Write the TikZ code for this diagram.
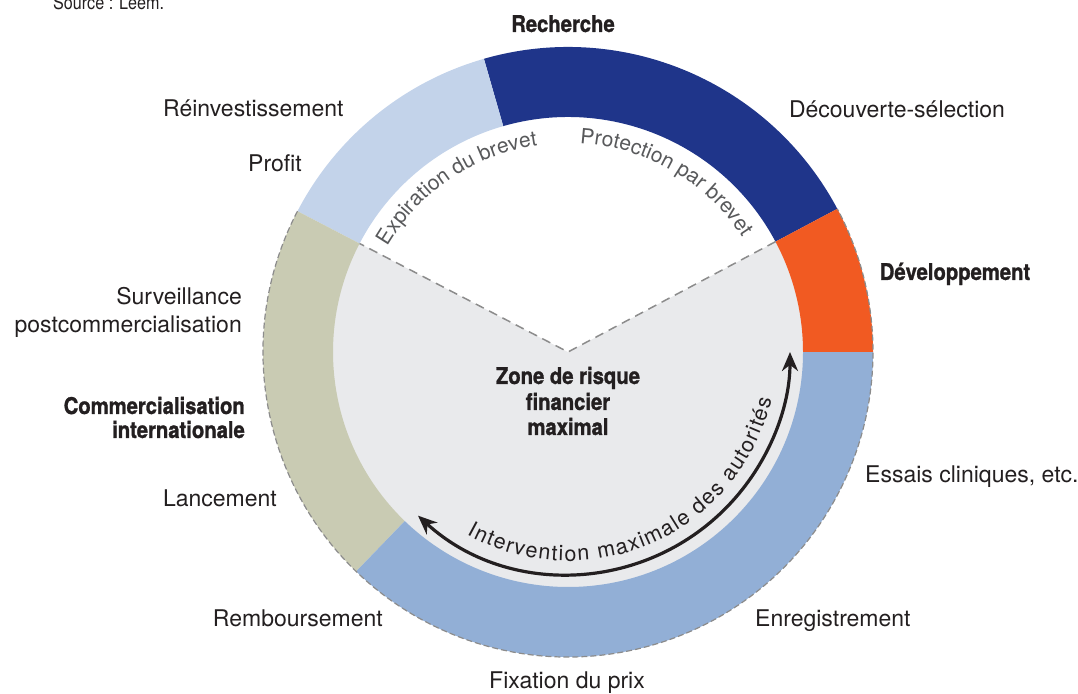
\documentclass[tikz,border=0pt]{standalone}
\usepackage{fontspec}
\setmainfont{TeX Gyre Heros}
\newfontfamily\condbold{TeX Gyre Heros}[FakeStretch=0.88,FakeBold=1.2]
\newfontfamily\condreg{TeX Gyre Heros}[FakeStretch=0.85]
\usetikzlibrary{arrows.meta,decorations.text}

\definecolor{ink}{HTML}{231F20}
\definecolor{arcgray}{HTML}{58595B}
\definecolor{dashgray}{HTML}{8C8C8C}
\definecolor{research}{HTML}{1F358A}
\definecolor{develop}{HTML}{F15A22}
\definecolor{clinical}{HTML}{92AFD6}
\definecolor{market}{HTML}{C9CBB3}
\definecolor{reinvest}{HTML}{C3D3EA}
\definecolor{riskzone}{HTML}{E9EAEC}

% annular sector: colour, start angle, end angle
\newcommand\ringsector[3]{%
  \fill[#1] ([shift={(C)}]#2:305pt) arc[start angle=#2, end angle=#3, radius=305pt]
    -- ([shift={(C)}]#3:235pt) arc[start angle=#3, end angle=#2, radius=235pt] -- cycle;}

\begin{document}
\begin{tikzpicture}[x=1pt,y=1pt,
  lbl/.style={font=\fontsize{23}{27}\selectfont, text=ink, inner sep=0pt},
  lblb/.style={font=\condbold\bfseries\fontsize{23}{27}\selectfont, text=ink, inner sep=0pt},
  srcstyle/.style={font=\condreg\fontsize{19}{22}\selectfont, text=ink, inner sep=0pt},
  edgedash/.style={draw=dashgray, line width=1.2pt, dash pattern=on 6pt off 3pt},
  vdash/.style={draw=dashgray, line width=1.5pt, dash pattern=on 9pt off 6pt},
  bigarrow/.style={line width=3.2pt, draw=ink, {Stealth[length=19pt,width=16pt]}-{Stealth[length=19pt,width=16pt]}}]

\useasboundingbox (0,0) rectangle (1078,693);
\coordinate (C) at (568,341);

% inner disc with the white patent sector
\fill[riskzone] (C) circle[radius=235.5pt];
\fill[white] (C) -- ([shift={(C)}]28:235.5pt) arc[start angle=28, end angle=152.5, radius=235.5pt] -- cycle;

% coloured ring
\ringsector{research}{28}{106}
\ringsector{reinvest}{106}{152.5}
\ringsector{market}{152.5}{226}
\ringsector{clinical}{226}{360}
\ringsector{develop}{0}{28}

% dashed outline of the risk phases
\draw[edgedash] ([shift={(C)}]152.5:305pt) arc[start angle=152.5, end angle=388, radius=305pt];

% dashed wedge
\coordinate (vR) at ([shift={(C)}]28:235pt);
\coordinate (vL) at ([shift={(C)}]152.5:235pt);
\draw[vdash] (vR) -- (C) -- (vL);

% arc texts
\path[decorate, decoration={text along path, text align=center,
  text={|\fontsize{21}{25}\selectfont\color{arcgray}|Expiration du brevet}}]
  ([shift={(C)}]164:209pt) arc[start angle=164, end angle=84, radius=209pt];
\path[decorate, decoration={text along path, text align=center,
  text={|\fontsize{21}{25}\selectfont\color{arcgray}|Protection par brevet}}]
  ([shift={(C)}]100:209pt) arc[start angle=100, end angle=20, radius=209pt];

% authorities arrow
\coordinate (arrL) at ([shift={(C)}]-132.5:222pt);
\draw[bigarrow] (arrL) arc[start angle=-132.5, end angle=0, radius=222pt];
\path[decorate, decoration={text along path, text align=fit to path,
  text={|\fontsize{21.5}{25}\selectfont\color{ink}|Intervention maximale des autorités}}]
  ([shift={(C)}]-119:209pt) arc[start angle=-119, end angle=-13, radius=209pt];

% centre text
\node[lblb, anchor=base] (zone1) at (568,309) {Zone de risque};
\node[lblb, anchor=base] (zone2) at (568,283) {financier};
\node[lblb, anchor=base] (zone3) at (568,258) {maximal};

% outer labels
\node[srcstyle, anchor=base west] (src) at (53,683) {Source : Leem.};
\node[lblb, anchor=base] (rech) at (563,661) {Recherche};
\node[lbl, anchor=base] (decsel) at (897,575) {Découverte-sélection};
\node[lblb, anchor=base] (dev) at (955,413) {Développement};
\node[lbl, anchor=base west] (essais) at (865,210) {Essais cliniques, etc.};
\node[lbl, anchor=base west] (enreg) at (755,66) {Enregistrement};
\node[lbl, anchor=base] (fix) at (567,5) {Fixation du prix};
\node[lbl, anchor=base east] (remb) at (383,66) {Remboursement};
\node[lbl, anchor=base east] (lanc) at (277,186) {Lancement};
\node[lblb, anchor=base east] (comm1) at (245,279) {Commercialisation};
\node[lblb, anchor=base east] (comm2) at (245,255) {internationale};
\node[lbl, anchor=base east] (surv1) at (242,388) {Surveillance};
\node[lbl, anchor=base east] (surv2) at (242,360) {postcommercialisation};
\node[lbl, anchor=base west] (profit) at (248,521) {Profit};
\node[lbl, anchor=base west] (reinv) at (163,576) {Réinvestissement};
\end{tikzpicture}
\end{document}
